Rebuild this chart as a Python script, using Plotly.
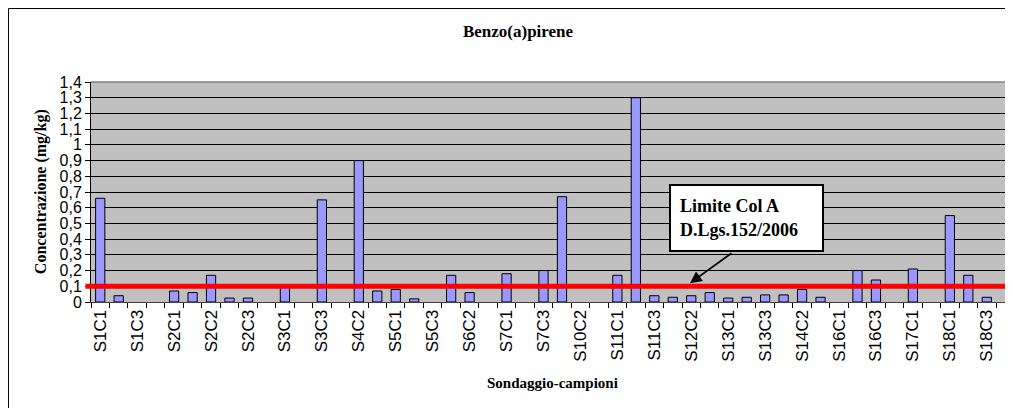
import plotly.graph_objects as go

# sample names (only every other one is labelled on the axis)
categorie = [
    "S1C1", "S1C2", "S1C3", "S1C4", "S2C1", "S2C1bis", "S2C2", "S2C2bis",
    "S2C3", "S2C4", "S3C1", "S3C2", "S3C3", "S4C1", "S4C2", "S4C3",
    "S5C1", "S5C2", "S5C3", "S6C1", "S6C2", "S6C3", "S7C1", "S7C2",
    "S7C3", "S10C1", "S10C2", "S10C3", "S11C1", "S11C2", "S11C3", "S12C1",
    "S12C2", "S12C3", "S13C1", "S13C2", "S13C3", "S14C1", "S14C2", "S14C3",
    "S16C1", "S16C2", "S16C3", "S16C4", "S17C1", "S17C2", "S18C1", "S18C2",
    "S18C3", "S18C4",
]
etichette = [c if i % 2 == 0 else "" for i, c in enumerate(categorie)]

# benzo(a)pirene, mg/kg (None = not detected / no bar)
concentrazione = [
    0.66, 0.04, None, None, 0.07, 0.06, 0.17, 0.025,
    0.025, None, 0.10, None, 0.65, None, 0.90, 0.07,
    0.08, 0.02, None, 0.17, 0.06, None, 0.18, None,
    0.20, 0.67, None, None, 0.17, 1.30, 0.04, 0.03,
    0.04, 0.06, 0.025, 0.03, 0.045, 0.045, 0.08, 0.03,
    None, 0.20, 0.14, None, 0.21, None, 0.55, 0.17,
    0.03, None,
]

limite_col_a = 0.1
y_ticks = [i / 10 for i in range(15)]

serif = "Liberation Serif, Times New Roman, serif"
sans = "Liberation Sans, Arial, sans-serif"

fig = go.Figure()

fig.add_trace(go.Bar(
    x=categorie, y=concentrazione,
    marker=dict(color="#9999FF", line=dict(color="black", width=1)),
    showlegend=False,
))

# red limit line
fig.add_shape(type="line", xref="paper", yref="y",
              x0=-0.006, x1=1.01, y0=limite_col_a, y1=limite_col_a,
              line=dict(color="#FF0000", width=5), layer="above")

# grey top border of the plot area
fig.add_shape(type="line", xref="paper", yref="paper",
              x0=0, x1=1, y0=1, y1=1,
              line=dict(color="#808080", width=1.5), layer="above")

# outer chart frame (cut at right/bottom edges)
fig.add_shape(type="rect", xref="paper", yref="paper",
              x0=-0.0895, x1=1.2, y0=-0.7, y1=1.334,
              line=dict(color="black", width=1), layer="above")

# callout box
fig.add_annotation(
    x=35, y=0.535, xref="x", yref="y",
    text="<b>Limite Col A<br>D.Lgs.152/2006</b>",
    showarrow=False, align="left",
    width=133, height=46, borderpad=9,
    bgcolor="white", bordercolor="black", borderwidth=2,
    font=dict(family=serif, size=18, color="black"),
)
# arrow from callout to limit line
fig.add_annotation(
    x=31.93, y=0.12, xref="x", yref="y",
    text="", showarrow=True, arrowhead=2, arrowsize=1.3, arrowwidth=1.8,
    arrowcolor="black", ax=43, ay=-31,
)

fig.add_annotation(
    x=-0.066, y=0.5, xref="paper", yref="paper",
    text="<b>Concentrazione (mg/kg)</b>", textangle=-90, showarrow=False,
    font=dict(family=serif, size=16, color="black"),
)
fig.add_annotation(
    x=0.5, y=-0.415, xref="paper", yref="paper",
    text="<b>Sondaggio-campioni</b>", showarrow=False,
    font=dict(family=serif, size=15, color="black"),
)

# page body adds an 8px offset, so the figure is 8px smaller
fig.update_layout(
    width=1005, height=400,
    margin=dict(l=83, r=0, t=74, b=106),
    title=dict(text="<b>Benzo(a)pirene</b>", x=0.5075, y=0.9425,
               xanchor="center", yanchor="middle",
               font=dict(family=serif, size=17, color="black")),
    plot_bgcolor="#C0C0C0",
    paper_bgcolor="white",
    separators=",.",
    bargap=0.5,
    xaxis=dict(
        type="category",
        range=[-0.5, 49.42],
        tickvals=categorie, ticktext=etichette,
        tickson="boundaries", ticks="outside", ticklen=5, tickcolor="black",
        tickangle=-90, tickfont=dict(family=sans, size=17, color="black"),
        showgrid=False, showline=True, linecolor="#404040", linewidth=1,
    ),
    yaxis=dict(
        range=[0, 1.4], tickvals=y_ticks,
        ticks="outside", ticklen=5, tickcolor="black",
        tickfont=dict(family=sans, size=16, color="black"),
        showgrid=True, gridcolor="black", gridwidth=1,
        showline=True, linecolor="black", linewidth=1,
        zeroline=False,
    ),
)

fig.write_html("out.html")
